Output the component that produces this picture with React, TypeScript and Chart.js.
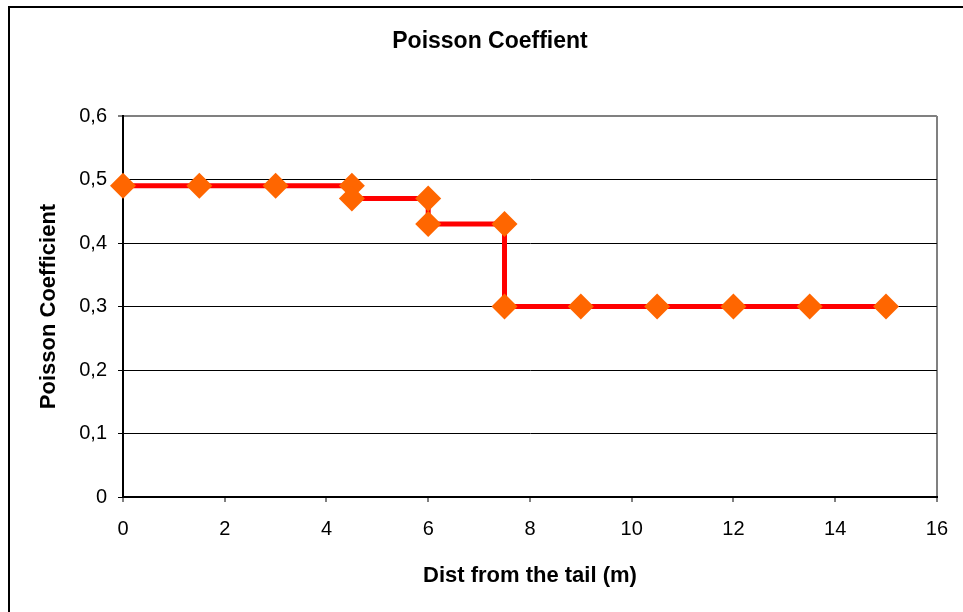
import React, { useEffect, useRef } from "react";
import { Chart, registerables } from "chart.js";

Chart.register(...registerables);

const TITLE = "Poisson Coeffient";
const X_TITLE = "Dist from the tail (m)";
const Y_TITLE = "Poisson Coefficient";
const xValues = [0, 1.5, 3, 4.5, 4.5, 6, 6, 7.5, 7.5, 9, 10.5, 12, 13.5, 15];
const yValues = [0.49, 0.49, 0.49, 0.49, 0.47, 0.47, 0.43, 0.43, 0.3, 0.3, 0.3, 0.3, 0.3, 0.3];
const X_MIN = 0, X_MAX = 16, X_STEP = 2;
const Y_MIN = 0, Y_MAX = 0.6, Y_STEP = 0.1;

const FONT = "'Liberation Sans', Arial, sans-serif";

const frame = {
  id: "frame",
  afterDraw(chart: any) {
    const ctx = chart.ctx;
    ctx.save();
    ctx.strokeStyle = "#000";
    ctx.lineWidth = 2;
    ctx.beginPath();
    ctx.moveTo(9, 612);
    ctx.lineTo(9, 7);
    ctx.lineTo(963, 7);
    ctx.stroke();
    ctx.restore();
  },
};

export default function App() {
  const ref = useRef<HTMLCanvasElement>(null);
  useEffect(() => {
    const data = xValues.map((x, i) => ({ x, y: yValues[i] }));
    const chart = new Chart(ref.current!, {
      type: "line",
      data: {
        datasets: [
          {
            data,
            borderColor: "#FF0000",
            borderWidth: 5,
            pointStyle: "rectRot",
            pointRadius: 13,
            pointBackgroundColor: "#FF6600",
            pointBorderColor: "#FF6600",
            pointBorderWidth: 0,
            clip: false as any,
            tension: 0,
          },
        ],
      },
      options: {
        responsive: false,
        animation: false,
        layout: { padding: { left: 17, right: 0, top: 0, bottom: 0 } },
        plugins: {
          legend: { display: false },
          tooltip: { enabled: false },
          title: {
            display: true,
            text: TITLE,
            color: "#000",
            font: { family: FONT, size: 23, weight: "bold" },
            padding: { top: 28, bottom: 60.4 },
          },
        },
        scales: {
          x: {
            type: "linear",
            min: X_MIN,
            max: X_MAX,
            afterFit: (s: any) => { s.height = 115; },
            ticks: {
              stepSize: X_STEP,
              color: "#000",
              font: { family: FONT, size: 20 },
              padding: 15,
              maxRotation: 0,
            },
            grid: {
              display: true,
              color: (c: any) => (c.tick && c.tick.value === X_MAX ? "#808080" : "rgba(0,0,0,0)"),
              lineWidth: 2,
              tickLength: 5,
              tickColor: "#000",
              tickWidth: 1,
            },
            border: { display: true, color: "#000", width: 2 },
            title: {
              display: true,
              text: X_TITLE,
              color: "#000",
              font: { family: FONT, size: 22, weight: "bold" },
              padding: { top: 0, bottom: 22.8 },
            },
          },
          y: {
            type: "linear",
            min: Y_MIN,
            max: Y_MAX,
            afterFit: (s: any) => { s.width = 106; },
            ticks: {
              stepSize: Y_STEP,
              color: "#000",
              font: { family: FONT, size: 20 },
              padding: 11,
              callback: (v: any) => (v === 0 ? "0" : Number(v).toFixed(1).replace(".", ",")),
            },
            grid: {
              color: (c: any) => (c.tick && Math.abs(c.tick.value - Y_MAX) < 1e-9 ? "#808080" : "#000"),
              lineWidth: (c: any) => (c.tick && Math.abs(c.tick.value - Y_MAX) < 1e-9 ? 2 : 1),
              tickLength: 5,
              tickColor: "#000",
              tickWidth: 1,
            },
            border: { display: true, color: "#000", width: 2 },
            title: {
              display: true,
              text: Y_TITLE,
              color: "#000",
              font: { family: FONT, size: 22, weight: "bold" },
              padding: { top: 18.8, bottom: 0 },
            },
          },
          yRight: {
            type: "linear",
            position: "right",
            display: true,
            afterFit: (s: any) => { s.width = 25; },
            ticks: { display: false },
            grid: { display: false },
            border: { display: false },
          },
        },
      } as any,
      plugins: [frame],
    });
    return () => chart.destroy();
  }, []);
  return (
    <div style={{ position: "absolute", left: 0, top: 0, width: 963, height: 612, background: "#fff" }}>
      <canvas ref={ref} width={963} height={612} style={{ display: "block" }} />
    </div>
  );
}
